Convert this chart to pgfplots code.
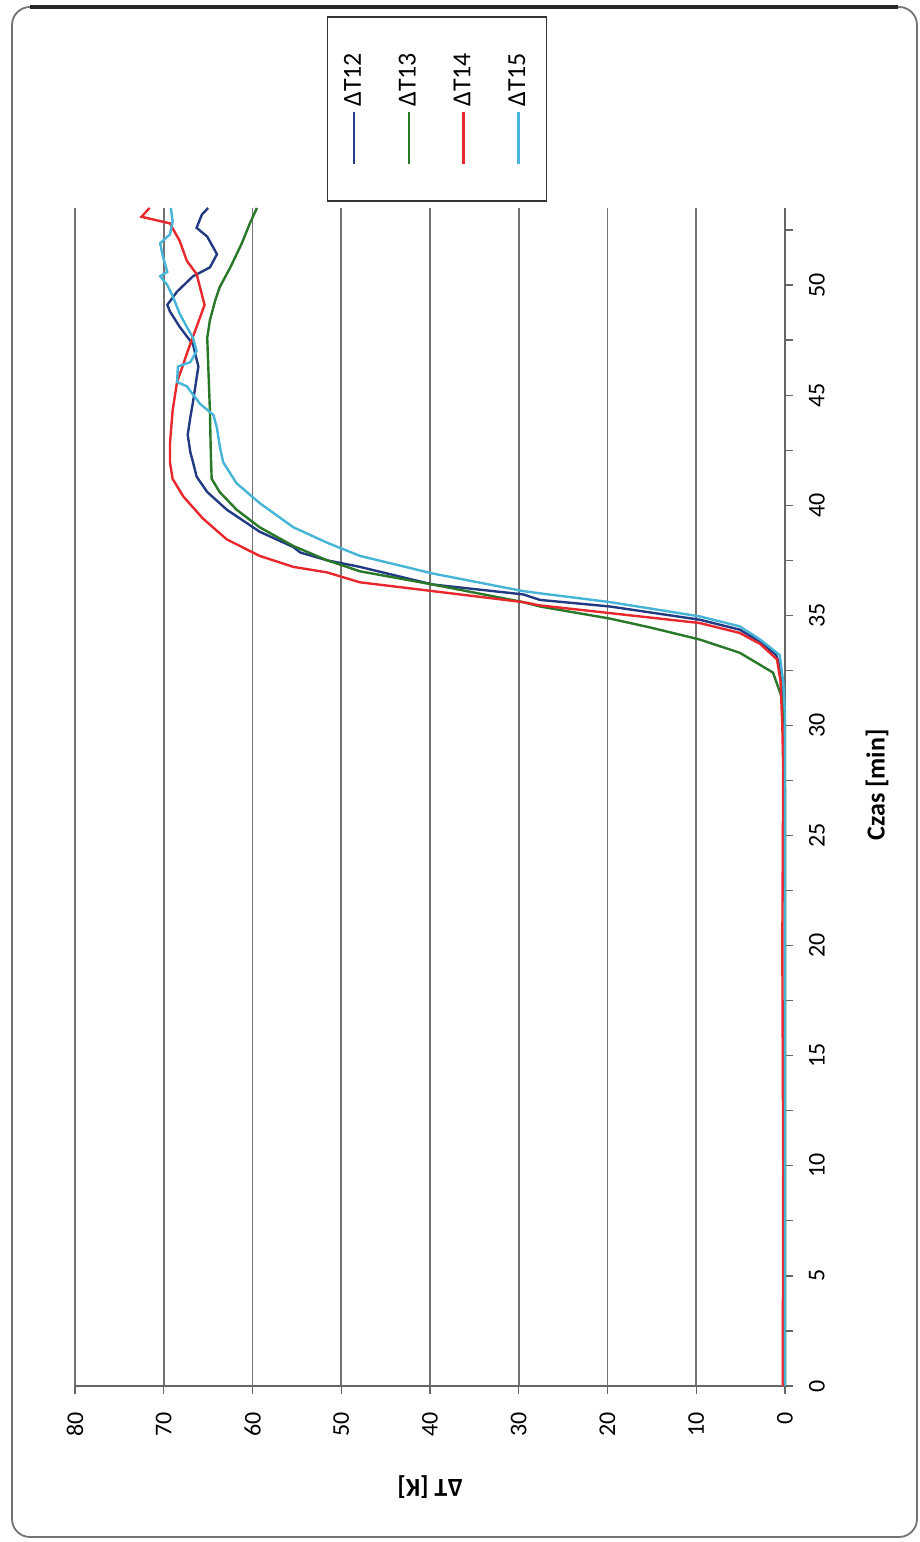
\documentclass[border=0pt]{standalone}
\usepackage{fontspec}
\setmainfont{Carlito}
\usepackage{pgfplots}
\pgfplotsset{compat=1.18}
\usetikzlibrary{calc}

\definecolor{c12}{RGB}{34,58,130}
\definecolor{c13}{RGB}{40,120,40}
\definecolor{c14}{RGB}{232,40,45}
\definecolor{c15}{RGB}{70,180,215}

% legend sample: vertical line with the series name set above it
\pgfplotsset{
  vlegend/.style 2 args={
    legend image code/.code={
      \draw[#1, line width=1.2pt] (0pt,0pt) -- (0pt,26pt);
      \node[rotate=90, anchor=west, inner sep=0pt, text=black,
            font=\fontsize{13}{15}\selectfont] at (0pt,28pt) {#2};
    }
  }
}

\begin{document}
\begin{tikzpicture}
\useasboundingbox (0,0) rectangle (460pt,771pt);
% chart area frame
\draw[black!55, line width=0.9pt, rounded corners=9pt] (6pt,2.5pt) rectangle (458.5pt,767.5pt);
\draw[black!85, line width=2pt] (15pt,767.5pt) -- (449pt,767.5pt);
\begin{axis}[
  at={(215pt,78pt)}, anchor=south,
  scale only axis, width=355pt, height=589pt,
  x dir=reverse,
  xmin=0, xmax=80, ymin=0, ymax=53.5,
  axis x line*=bottom, axis y line*=right,
  xtick={0,10,...,80},
  ytick={0,5,...,50}, minor ytick={2.5,7.5,...,52.5},
  xmajorgrids, grid style={black!55, line width=0.8pt},
  tick align=outside, major tick length=4pt, minor tick length=4pt,
  tick style={black!60, line width=0.6pt},
  axis line style={black!60, line width=0.8pt},
  /pgf/number format/assume math mode=true,
  ticklabel style={font=\fontsize{12}{14}\selectfont},
  xticklabel style={yshift=-5.5pt, rotate=90, anchor=east},
  yticklabel style={xshift=4.5pt, rotate=90, anchor=north},
  clip=false,
  legend columns=4,
  legend style={at={(0.51,1.084)}, anchor=center,
    draw=black!80, line width=0.8pt,
    inner xsep=8.25pt, inner ysep=18pt,
    nodes={inner sep=0pt},
    /tikz/every odd column/.append style={column sep=0pt},
    /tikz/every even column/.append style={column sep=16.5pt}},
  every axis plot/.append style={line width=1.2pt},
]

% dT12
\addplot[c12, vlegend={c12}{ΔT12}] coordinates {
 (0,0) (0,25) (0.05,30) (0.2,31.5) (0.5,32.6) (1.0,33.2) (2.8,33.8) (5.1,34.35)
 (9.6,34.8) (19.7,35.4) (27.6,35.7) (29.5,35.95) (39.7,36.4) (47.9,37.2)
 (51.6,37.5) (54.6,37.85) (55.4,38.1) (59.2,38.8) (62.9,39.8) (65.1,40.6)
 (66.3,41.3) (66.7,41.95) (67.0,42.4) (67.3,43.2) (67.0,44.0) (66.7,44.7)
 (66.1,46.3) (66.7,47.3) (68.2,48.1) (69.3,48.8) (69.6,49.1) (68.5,49.7)
 (66.7,50.4) (64.8,50.8) (64.0,51.4) (65.1,52.2) (66.3,52.6) (65.7,53.2) (65.0,53.5)
};
\addlegendentry{}

% dT13
\addplot[c13, vlegend={c13}{ΔT13}] coordinates {
 (0,0) (0,30) (0.3,31.2) (1.35,32.4) (5.1,33.3) (9.6,33.9) (15.2,34.45)
 (19.7,34.85) (27.6,35.4) (29.5,35.6) (39.7,36.4) (47.9,37.0) (51.6,37.5)
 (55.4,38.15) (59.2,39.0) (61.8,39.8) (63.7,40.6) (64.6,41.2) (64.7,42.4)
 (64.8,44.3) (65.0,46.5) (65.1,47.6) (64.8,48.4) (64.2,49.3) (63.7,49.9)
 (62.5,50.8) (61.2,51.9) (60.3,52.8) (59.5,53.5)
};
\addlegendentry{}

% dT14
\addplot[c14, vlegend={c14}{ΔT14}] coordinates {
 (0.25,0) (0.2,10) (0.3,20) (0.2,28) (0.3,30) (0.5,32) (0.9,33) (2.8,33.7)
 (5.1,34.2) (9.6,34.65) (19.7,35.1) (27.6,35.45) (29.5,35.6) (39.7,36.1)
 (47.9,36.5) (51.6,36.95) (55.4,37.2) (59.2,37.7) (62.9,38.45) (65.6,39.4)
 (67.8,40.4) (69.0,41.2) (69.3,41.95) (69.3,42.8) (69.0,44.3) (68.5,45.6)
 (67.8,46.4) (67.3,47.0) (66.3,48.1) (65.4,49.1) (66.3,50.5) (67.4,51.1)
 (68.2,52.0) (69.3,52.8) (72.5,53.1) (71.6,53.5)
};
\addlegendentry{}

% dT15
\addplot[c15, vlegend={c15}{ΔT15}] coordinates {
 (0,0) (0,30.5) (0.2,32) (0.6,33.2) (2.8,33.9) (5.1,34.5) (9.6,34.95)
 (19.7,35.6) (27.6,36.0) (29.5,36.1) (39.7,36.9) (47.9,37.7) (51.6,38.3)
 (55.4,39.0) (59.2,40.1) (61.8,41.0) (63.3,41.95) (63.7,42.7) (64.0,43.5)
 (64.4,44.1) (65.9,44.6) (67.4,45.4) (68.5,45.6) (68.4,46.3) (67.0,46.5)
 (66.3,47.0) (66.7,47.6) (67.4,48.1) (68.2,48.7) (69.0,49.5) (69.6,50.0)
 (70.4,50.4) (69.6,50.6) (70.1,51.3) (70.4,51.9) (69.3,52.3) (69.0,52.9) (69.2,53.5)
};
\addlegendentry{}

% axis titles
\node[rotate=180, font=\fontsize{13}{15}\selectfont\bfseries, anchor=center]
  at ($(axis cs:40,0)+(0pt,-50.5pt)$) {ΔT [K]};
\node[rotate=90, font=\fontsize{13}{15}\selectfont\bfseries, anchor=center]
  at ($(axis cs:0,27.3)+(46pt,0pt)$) {Czas [min]};
\end{axis}
\end{tikzpicture}
\end{document}
